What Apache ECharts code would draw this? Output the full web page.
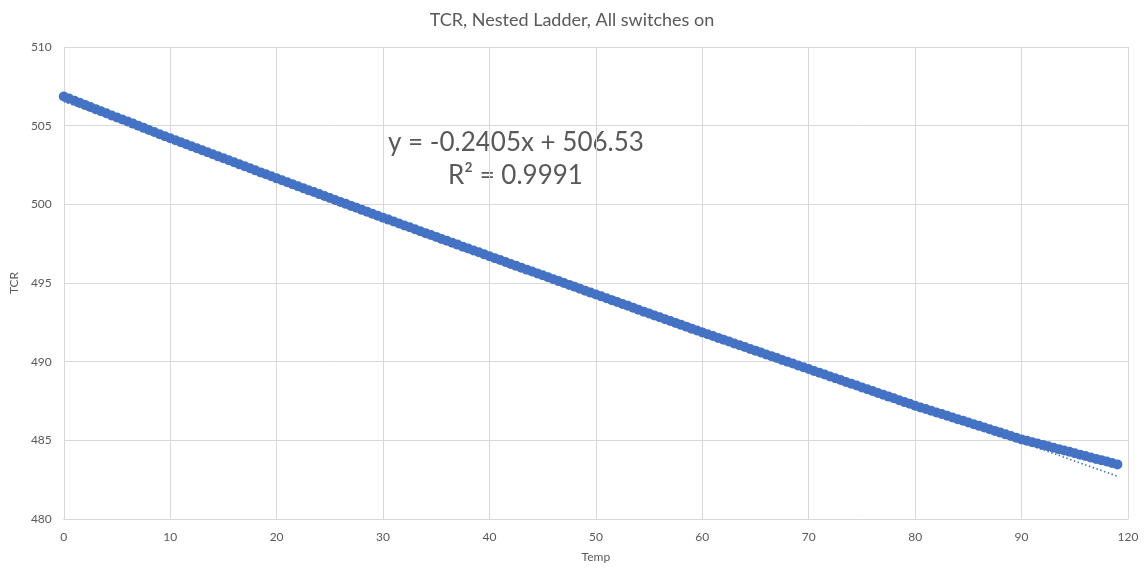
<!DOCTYPE html>
<html>
<head>
<meta charset="utf-8">
<script src="https://cdn.jsdelivr.net/npm/echarts@6/dist/echarts.min.js"></script>
<style>
html,body{margin:0;padding:0;background:#fff;}
#chart{width:1144px;height:571px;}
</style>
</head>
<body>
<div id="chart"></div>
<script>
const titleText = 'TCR, Nested Ladder, All switches on';
const xAxisName = 'Temp';
const yAxisName = 'TCR';
const equationText = 'y = -0.2405x + 506.53';
const r2Text = 'R² = 0.9991';
const trendSlope = -0.2405;
const trendIntercept = 506.53;

const temps = [
  0,0.5,1,1.5,2,2.5,3,3.5,4,4.5,5,5.5,6,6.5,7,7.5,8,8.5,9,9.5,
  10,10.5,11,11.5,12,12.5,13,13.5,14,14.5,15,15.5,16,16.5,17,17.5,18,18.5,19,19.5,
  20,20.5,21,21.5,22,22.5,23,23.5,24,24.5,25,25.5,26,26.5,27,27.5,28,28.5,29,29.5,
  30,30.5,31,31.5,32,32.5,33,33.5,34,34.5,35,35.5,36,36.5,37,37.5,38,38.5,39,39.5,
  40,40.5,41,41.5,42,42.5,43,43.5,44,44.5,45,45.5,46,46.5,47,47.5,48,48.5,49,49.5,
  50,50.5,51,51.5,52,52.5,53,53.5,54,54.5,55,55.5,56,56.5,57,57.5,58,58.5,59,59.5,
  60,60.5,61,61.5,62,62.5,63,63.5,64,64.5,65,65.5,66,66.5,67,67.5,68,68.5,69,69.5,
  70,70.5,71,71.5,72,72.5,73,73.5,74,74.5,75,75.5,76,76.5,77,77.5,78,78.5,79,79.5,
  80,80.5,81,81.5,82,82.5,83,83.5,84,84.5,85,85.5,86,86.5,87,87.5,88,88.5,89,89.5,
  90,90.5,91,91.5,92,92.5,93,93.5,94,94.5,95,95.5,96,96.5,97,97.5,98,98.5,99
];
const tcr = [
  506.85,506.72,506.59,506.45,506.32,506.19,506.05,505.92,505.79,505.65,505.52,505.39,505.26,505.13,504.99,504.86,504.73,504.60,504.46,504.33,
  504.20,504.07,503.95,503.82,503.69,503.56,503.44,503.31,503.18,503.05,502.93,502.80,502.67,502.54,502.42,502.29,502.16,502.03,501.91,501.78,
  501.65,501.53,501.40,501.28,501.15,501.03,500.90,500.78,500.65,500.53,500.40,500.28,500.15,500.03,499.90,499.78,499.65,499.53,499.40,499.28,
  499.15,499.03,498.91,498.78,498.66,498.54,498.42,498.29,498.17,498.05,497.93,497.80,497.68,497.56,497.44,497.31,497.19,497.07,496.95,496.82,
  496.70,496.58,496.46,496.34,496.21,496.09,495.97,495.85,495.73,495.61,495.49,495.36,495.24,495.12,495.00,494.88,494.76,494.63,494.51,494.39,
  494.27,494.15,494.03,493.91,493.79,493.67,493.55,493.43,493.30,493.18,493.06,492.94,492.82,492.70,492.58,492.46,492.34,492.22,492.10,491.98,
  491.86,491.74,491.63,491.51,491.39,491.28,491.16,491.04,490.93,490.81,490.70,490.58,490.46,490.35,490.23,490.11,490.00,489.88,489.76,489.65,
  489.53,489.41,489.30,489.18,489.06,488.95,488.83,488.71,488.60,488.48,488.36,488.25,488.13,488.01,487.90,487.78,487.67,487.55,487.43,487.32,
  487.20,487.09,486.99,486.88,486.77,486.67,486.56,486.45,486.34,486.24,486.13,486.02,485.92,485.81,485.70,485.60,485.49,485.38,485.27,485.17,
  485.06,484.97,484.88,484.80,484.71,484.62,484.53,484.44,484.35,484.27,484.18,484.09,484.00,483.91,483.82,483.74,483.65,483.56,483.47
];
// x-axis tick labels as printed in the reference (last gridline is labelled 120)
const xTickLabels = {0:'0',10:'10',20:'20',30:'30',40:'40',50:'50',60:'60',70:'70',80:'80',90:'90',100:'120'};

const scatterData = temps.map((t, i) => [t, tcr[i]]);
const tFirst = temps[0], tLast = temps[temps.length - 1];
const trendData = [[tFirst, trendIntercept + trendSlope * tFirst], [tLast, trendIntercept + trendSlope * tLast]];

const FONT = 'Lato, "Open Sans", sans-serif';
const TXT = '#595959';
const GRID = '#d9d9d9';
const BLUE = '#4472C4';

const chart = echarts.init(document.getElementById('chart'), null, {renderer: 'canvas'});
chart.setOption({
  animation: false,
  backgroundColor: '#fff',
  title: {
    text: titleText, left: 'center', top: 6,
    textStyle: {fontFamily: FONT, fontSize: 18, fontWeight: 'normal', color: TXT}
  },
  grid: {left: 60, right: 16, top: 47, bottom: 52, containLabel: false},
  xAxis: {
    type: 'value', min: 0, max: 100, interval: 10,
    name: xAxisName, nameLocation: 'middle', nameGap: 32,
    nameTextStyle: {fontFamily: FONT, fontSize: 12, color: TXT},
    axisLine: {show: true, lineStyle: {color: GRID, width: 1}},
    axisTick: {show: false},
    axisLabel: {fontFamily: FONT, fontSize: 12, color: TXT, margin: 12,
      formatter: v => (xTickLabels[v] !== undefined ? xTickLabels[v] : '')},
    splitLine: {show: true, lineStyle: {color: GRID, width: 1}}
  },
  yAxis: {
    type: 'value', min: 480, max: 510, interval: 5,
    name: yAxisName, nameLocation: 'middle', nameGap: 40, nameRotate: 90,
    nameTextStyle: {fontFamily: FONT, fontSize: 12, color: TXT},
    axisLine: {show: true, lineStyle: {color: GRID, width: 1}},
    axisTick: {show: false},
    axisLabel: {fontFamily: FONT, fontSize: 12, color: TXT, margin: 12},
    splitLine: {show: true, lineStyle: {color: GRID, width: 1}}
  },
  series: [
    {
      type: 'scatter', data: scatterData, symbol: 'circle', symbolSize: 10,
      itemStyle: {color: BLUE, opacity: 1}, z: 2
    },
    {
      type: 'line', data: trendData, symbol: 'none', silent: true,
      lineStyle: {color: BLUE, width: 1.6, type: [1.5, 2.5]}, z: 3
    }
  ],
  graphic: [
    {type: 'text', left: 388, top: 130, style: {text: equationText, font: '26px ' + FONT, fill: TXT}},
    {type: 'text', left: 448, top: 163, style: {text: r2Text, font: '26px ' + FONT, fill: TXT}}
  ]
});
</script>
</body>
</html>
